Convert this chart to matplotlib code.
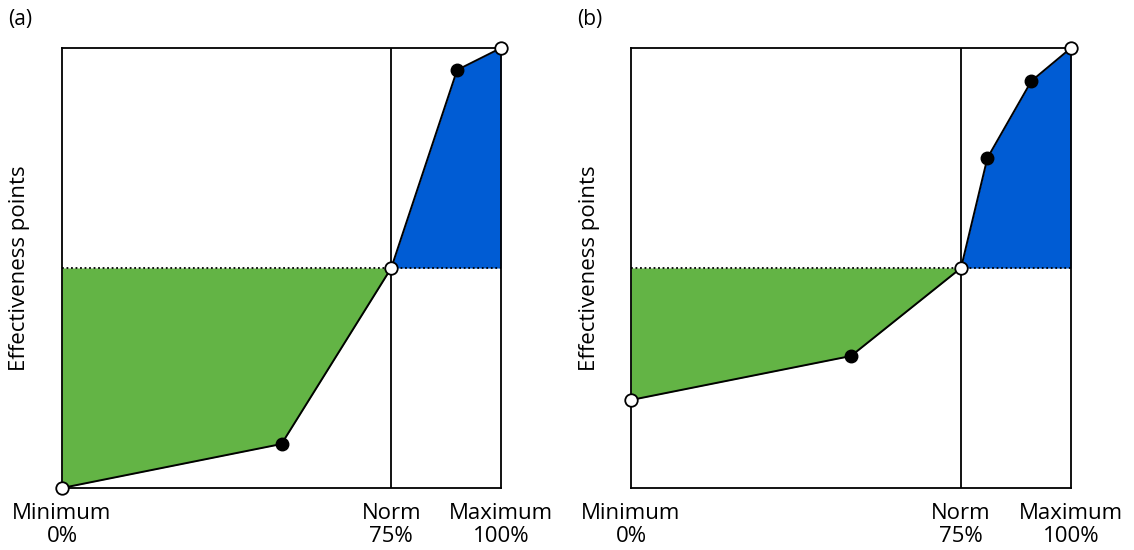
import matplotlib.pyplot as plt
import numpy as np

# x in % of range, y as fraction of the effectiveness-points scale
xa = [0, 50, 75, 90, 100]
ya = [0.0, 0.10, 0.5, 0.95, 1.0]
xb = [0, 50, 75, 81, 91, 100]
yb = [0.20, 0.30, 0.5, 0.75, 0.925, 1.0]
open_a = [0, 2, 4]  # indices drawn as open circles
open_b = [0, 2, 5]
norm_x = 75
norm_y = 0.5
tick_pos = [0, 75, 100]
tick_labels = ['Minimum\n0%', 'Norm\n75%', 'Maximum\n100%']
panel_names = ['(a)', '(b)']

green = '#63b445'
blue = '#005cd4'

plt.rcParams['font.family'] = ['Open Sans', 'DejaVu Sans']

W, H = 1134, 550
fig = plt.figure(figsize=(W/100, H/100), dpi=100)
ax_a = fig.add_axes([62/W, 1-488/H, 439/W, 440/H])
ax_b = fig.add_axes([631/W, 1-488/H, 440/W, 440/H])


def draw(ax, x, y, opens, name, left_px):
    x = np.array(x, float)
    y = np.array(y, float)
    left = x <= norm_x
    right = x >= norm_x
    ax.fill_between(x[left], y[left], norm_y, color=green, lw=0)
    ax.fill_between(x[right], y[right], norm_y, color=blue, lw=0)
    ax.axhline(norm_y, color='black', ls=(0, (1, 1.5)), lw=1.3)
    ax.axvline(norm_x, color='black', lw=1.3)
    ax.plot(x, y, color='black', lw=1.4, clip_on=False, zorder=3)
    filled = [i for i in range(len(x)) if i not in opens]
    ax.plot(x[filled], y[filled], 'o', ms=9, mfc='black', mec='black',
            clip_on=False, zorder=4)
    ax.plot(x[opens], y[opens], 'o', ms=9, mfc='white', mec='black',
            mew=1.3, clip_on=False, zorder=5)
    ax.set_xlim(0, 100)
    ax.set_ylim(0, 1)
    ax.set_xticks(tick_pos)
    ax.set_xticklabels(tick_labels, fontsize=16, linespacing=1.12)
    ax.set_yticks([])
    ax.tick_params(axis='x', length=0, pad=11)
    for s in ax.spines.values():
        s.set_linewidth(1.3)
    # y label and panel letter placed in figure pixels
    fig.text((left_px - 42)/W, 1-268/H, 'Effectiveness points', fontsize=16,
             rotation=90, ha='center', va='center')
    fig.text((left_px - 54)/W, 1-20/H, name, fontsize=15,
             ha='left', va='center')


draw(ax_a, xa, ya, open_a, panel_names[0], 62)
draw(ax_b, xb, yb, open_b, panel_names[1], 631)

fig.savefig('out.png', dpi=100)
